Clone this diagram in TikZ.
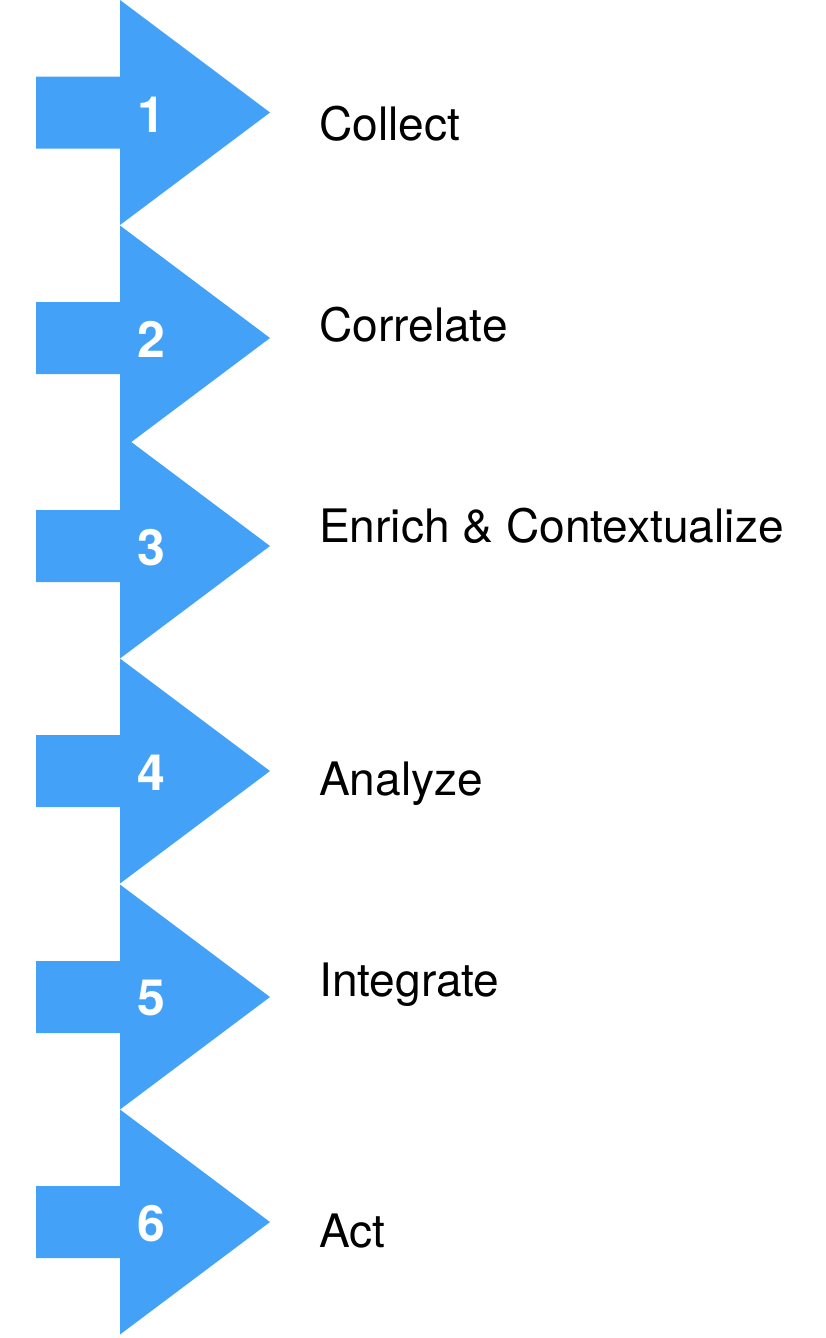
\documentclass[tikz,border=0pt]{standalone}
\usepackage{fontspec}
\setmainfont{TeX Gyre Heros}
\definecolor{arrowblue}{HTML}{43A2F8}
\begin{document}
\begin{tikzpicture}[x=1pt,y=-1pt,
  stepshape/.style={fill=arrowblue},
  num/.style={text=white,inner sep=0pt,anchor=center,font=\fontsize{50}{50}\selectfont\bfseries},
  lab/.style={anchor=base west,inner sep=0pt,text=black,font=\fontsize{46.1}{50}\selectfont}]
\useasboundingbox (0,0) rectangle (826,1338);
\foreach \t in {112.5,338,546,771,997,1222}{
  \fill[stepshape] (36,\t-36) -- (120,\t-36) -- (120,\t-112.5) -- (270,\t)
    -- (120,\t+112.5) -- (120,\t+36) -- (36,\t+36) -- cycle;
}
\node[num] (n1) at (151,114.5) {1};
\node[num] (n2) at (151,339.5) {2};
\node[num] (n3) at (151,547.5) {3};
\node[num] (n4) at (151,772.5) {4};
\node[num] (n5) at (151,998) {5};
\node[num] (n6) at (151,1223.5) {6};
\node[lab] (l1) at (319,140) {Collect};
\node[lab] (l2) at (319,341.7) {Correlate};
\node[lab] (l3) at (319,542.7) {Enrich \& Contextualize};
\node[lab] (l4) at (319,795) {Analyze};
\node[lab] (l5) at (319,996) {Integrate};
\node[lab] (l6) at (319,1247.3) {Act};
\end{tikzpicture}
\end{document}
